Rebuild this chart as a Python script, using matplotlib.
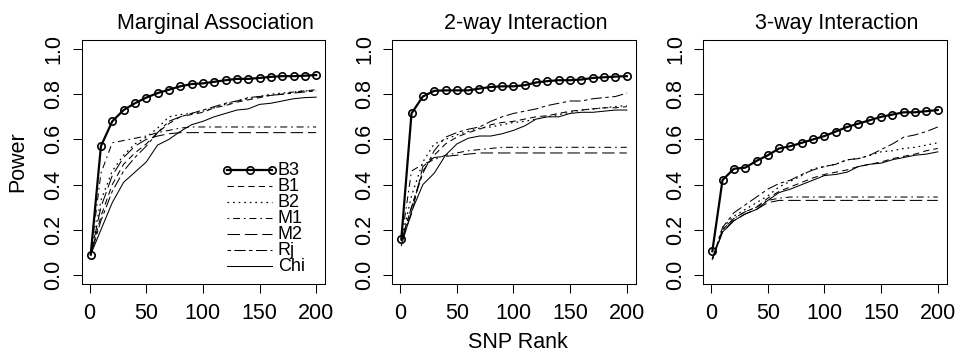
import numpy as np
import matplotlib; matplotlib.use("Agg")
import matplotlib.pyplot as plt

plt.rcParams["font.family"] = ["Liberation Sans", "DejaVu Sans"]
plt.rcParams["lines.scale_dashes"] = False

# ── Data ──────────────────────────────────────────────────────────────────────
snp_rank = [1, 10, 20, 30, 40, 50, 60, 70, 80, 90, 100,
            110, 120, 130, 140, 150, 160, 170, 180, 190, 200]

panels = ["Marginal Association", "2-way Interaction", "3-way Interaction"]
methods = ["B3", "B1", "B2", "M1", "M2", "Rj", "Chi"]

marg = {
    "B3":  [0.09, 0.57, 0.68, 0.73, 0.76, 0.785, 0.805, 0.82, 0.835, 0.845, 0.848,
            0.855, 0.862, 0.868, 0.868, 0.872, 0.877, 0.88, 0.88, 0.882, 0.885],
    "B1":  [0.09, 0.26, 0.40, 0.49, 0.54, 0.58, 0.63, 0.67, 0.70, 0.71, 0.72,
            0.74, 0.75, 0.765, 0.775, 0.785, 0.795, 0.80, 0.81, 0.815, 0.82],
    "B2":  [0.09, 0.33, 0.46, 0.53, 0.58, 0.61, 0.65, 0.70, 0.71, 0.715, 0.725,
            0.74, 0.755, 0.77, 0.78, 0.79, 0.80, 0.805, 0.81, 0.815, 0.815],
    "M1":  [0.09, 0.45, 0.585, 0.595, 0.605, 0.615, 0.63, 0.64, 0.65, 0.655, 0.655,
            0.655, 0.655, 0.655, 0.655, 0.655, 0.655, 0.655, 0.655, 0.655, 0.655],
    "M2":  [0.09, 0.30, 0.44, 0.52, 0.57, 0.60, 0.615, 0.625, 0.63, 0.63, 0.63,
            0.63, 0.63, 0.63, 0.63, 0.63, 0.63, 0.63, 0.63, 0.63, 0.63],
    "Rj":  [0.09, 0.24, 0.37, 0.46, 0.52, 0.57, 0.63, 0.68, 0.70, 0.715, 0.73,
            0.745, 0.76, 0.77, 0.785, 0.79, 0.795, 0.80, 0.805, 0.81, 0.815],
    "Chi": [0.09, 0.20, 0.32, 0.41, 0.455, 0.50, 0.575, 0.60, 0.635, 0.665, 0.68,
            0.70, 0.715, 0.73, 0.735, 0.755, 0.76, 0.77, 0.78, 0.785, 0.787],
}
two_way = {
    "B3":  [0.16, 0.715, 0.79, 0.815, 0.817, 0.817, 0.817, 0.825, 0.832, 0.835, 0.835,
            0.84, 0.852, 0.858, 0.862, 0.862, 0.865, 0.872, 0.875, 0.878, 0.88],
    "B1":  [0.15, 0.30, 0.46, 0.53, 0.58, 0.61, 0.63, 0.645, 0.665, 0.675, 0.68,
            0.69, 0.70, 0.705, 0.715, 0.725, 0.73, 0.735, 0.74, 0.74, 0.745],
    "B2":  [0.15, 0.35, 0.50, 0.58, 0.60, 0.62, 0.635, 0.65, 0.655, 0.665, 0.675,
            0.68, 0.69, 0.70, 0.71, 0.72, 0.73, 0.735, 0.74, 0.745, 0.75],
    "M1":  [0.15, 0.46, 0.49, 0.51, 0.53, 0.54, 0.55, 0.555, 0.56, 0.565, 0.565,
            0.565, 0.565, 0.565, 0.565, 0.565, 0.565, 0.565, 0.565, 0.565, 0.565],
    "M2":  [0.15, 0.27, 0.48, 0.52, 0.525, 0.53, 0.535, 0.54, 0.54, 0.54, 0.54,
            0.54, 0.54, 0.54, 0.54, 0.54, 0.54, 0.54, 0.54, 0.54, 0.54],
    "Rj":  [0.15, 0.30, 0.45, 0.55, 0.61, 0.63, 0.645, 0.655, 0.68, 0.70, 0.715,
            0.725, 0.735, 0.75, 0.76, 0.77, 0.77, 0.78, 0.785, 0.79, 0.805],
    "Chi": [0.13, 0.28, 0.40, 0.45, 0.53, 0.58, 0.605, 0.615, 0.615, 0.625, 0.64,
            0.66, 0.69, 0.70, 0.70, 0.715, 0.72, 0.72, 0.725, 0.73, 0.73],
}
three_way = {
    "B3":  [0.105, 0.42, 0.47, 0.475, 0.505, 0.53, 0.56, 0.57, 0.585, 0.60, 0.615,
            0.635, 0.655, 0.67, 0.685, 0.70, 0.71, 0.72, 0.72, 0.725, 0.73],
    "B1":  [0.07, 0.20, 0.25, 0.28, 0.30, 0.34, 0.37, 0.39, 0.41, 0.43, 0.445,
            0.455, 0.465, 0.48, 0.49, 0.50, 0.515, 0.525, 0.535, 0.55, 0.56],
    "B2":  [0.07, 0.21, 0.26, 0.29, 0.32, 0.35, 0.39, 0.415, 0.44, 0.47, 0.48,
            0.49, 0.51, 0.515, 0.53, 0.545, 0.55, 0.56, 0.565, 0.575, 0.585],
    "M1":  [0.07, 0.20, 0.25, 0.28, 0.30, 0.33, 0.34, 0.345, 0.345, 0.345, 0.345,
            0.345, 0.345, 0.345, 0.345, 0.345, 0.345, 0.345, 0.345, 0.345, 0.345],
    "M2":  [0.07, 0.19, 0.24, 0.27, 0.29, 0.32, 0.33, 0.33, 0.33, 0.33, 0.33,
            0.33, 0.33, 0.33, 0.33, 0.33, 0.33, 0.33, 0.33, 0.33, 0.33],
    "Rj":  [0.07, 0.21, 0.275, 0.31, 0.345, 0.38, 0.405, 0.42, 0.445, 0.465, 0.48,
            0.49, 0.51, 0.515, 0.53, 0.555, 0.58, 0.61, 0.62, 0.635, 0.655],
    "Chi": [0.07, 0.19, 0.24, 0.27, 0.29, 0.33, 0.365, 0.38, 0.40, 0.42, 0.44,
            0.445, 0.455, 0.48, 0.49, 0.495, 0.51, 0.52, 0.53, 0.535, 0.545],
}
panel_data = [marg, two_way, three_way]

x_ticks = [0, 50, 100, 150, 200]
y_ticks = [0.0, 0.2, 0.4, 0.6, 0.8, 1.0]

# ── Styles (R lty 1..6) ───────────────────────────────────────────────────────
STYLE = {
    "B3":  dict(ls="-", lw=1.6, marker="o", ms=5.3, mfc="none", mew=1.2),
    "B1":  dict(ls=(0, (4.5, 3)), lw=0.75),
    "B2":  dict(ls=(0, (1.2, 2.8)), lw=0.9),
    "M1":  dict(ls=(0, (1.2, 2.8, 5, 2.8)), lw=0.75),
    "M2":  dict(ls=(0, (9, 3.5)), lw=0.75),
    "Rj":  dict(ls=(0, (2.5, 2.5, 8, 2.5)), lw=0.75),
    "Chi": dict(ls="-", lw=0.75),
}
FS = 15.5

fig = plt.figure(figsize=(9.64, 3.57), dpi=100)
lefts = [81.7, 392.3, 703.3]
W, H = 964.0, 357.0
for i, (title, data) in enumerate(zip(panels, panel_data)):
    ax = fig.add_axes([lefts[i] / W, 1 - 284 / H, 243.5 / W, 244 / H])
    for m in methods[::-1]:
        ax.plot(snp_rank, data[m], color="black", **STYLE[m])
    ax.set_xlim(-6.96, 207.96)
    ax.set_ylim(-0.04, 1.04)
    ax.set_xticks(x_ticks)
    ax.set_yticks(y_ticks)
    ax.set_xticklabels([str(v) for v in x_ticks])
    ax.set_yticklabels([f"{v:.1f}" for v in y_ticks])
    ax.tick_params(axis="both", direction="out", length=6.5, width=0.75,
                   labelsize=FS, color="black")
    ax.tick_params(axis="x", pad=7.5)
    ax.tick_params(axis="y", pad=6)
    plt.setp(ax.get_yticklabels(), rotation=90, va="center")
    for sp in ax.spines.values():
        sp.set_linewidth(0.75)
    ax.text(0.549, 1.045, title, transform=ax.transAxes, ha="center",
            va="baseline", fontsize=FS)

    if i == 0:
        # legend, drawn by hand (R bty="n")
        for k, m in enumerate(methods):
            yy = 0.467 - k * 0.0656
            st = dict(STYLE[m])
            if m == "B3":
                ax.plot([0.597, 0.6895, 0.782], [yy] * 3, color="black",
                        transform=ax.transAxes, **st)
            else:
                ax.plot([0.597, 0.782], [yy, yy], color="black",
                        transform=ax.transAxes, **st)
            ax.text(0.806, yy, m, transform=ax.transAxes, ha="left",
                    va="center", fontsize=13)

fig.text(518 / W, 1 - 343 / H, "SNP Rank", ha="center", va="center", fontsize=FS)
fig.text(18 / W, 1 - 162 / H, "Power", ha="center", va="center",
         rotation=90, fontsize=FS)

fig.savefig("out.png", dpi=100, facecolor="white")
